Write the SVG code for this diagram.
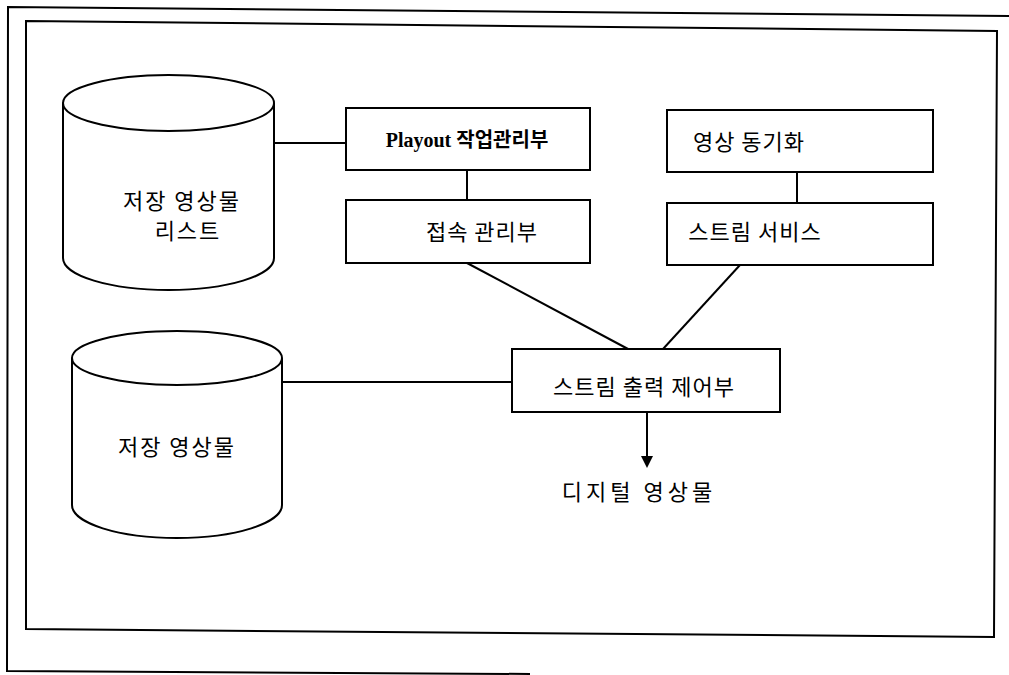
<svg xmlns="http://www.w3.org/2000/svg" width="1009" height="675" viewBox="0 0 1009 675">
<defs>
<style>
.ln{fill:none;stroke:#000;stroke-width:2}
.bx{fill:#fff;stroke:#000;stroke-width:2}
.t{font-family:"Noto Sans CJK KR","Noto Sans",sans-serif;font-size:22px;letter-spacing:1px;fill:#000;text-anchor:middle}
.ts{font-family:"Liberation Serif","Noto Sans CJK KR",serif;font-size:20px;font-weight:bold;fill:#000;text-anchor:middle}
</style>
<marker id="ah" markerWidth="12" markerHeight="12" refX="10" refY="6" orient="auto" markerUnits="userSpaceOnUse">
<path d="M0,0 L12,6 L0,12 Z" fill="#000"/>
</marker>
</defs>
<rect width="1009" height="675" fill="#fff"/>
<g id="frame">
<polyline class="ln" points="1009,16 8,7 7,671 530,674"/>
<polygon class="ln" points="26,21 997,31 994,637 26,629"/>
</g>
<g id="connectors">
<line class="ln" x1="275" y1="143" x2="346" y2="143"/>
<line class="ln" x1="283" y1="382" x2="512" y2="382"/>
<line class="ln" x1="467" y1="170" x2="467" y2="200"/>
<line class="ln" x1="797" y1="172" x2="797" y2="203"/>
<line class="ln" x1="467" y1="263" x2="628" y2="349"/>
<line class="ln" x1="740" y1="265" x2="663" y2="349"/>
<line class="ln" x1="647" y1="412" x2="647" y2="466" marker-end="url(#ah)"/>
</g>
<g id="cyl1">
<path class="bx" d="M63,103 L63,258 A105.5,32 0 0 0 274,258 L274,103 A105.5,28 0 0 0 63,103 Z"/>
<path class="ln" d="M63,103 A105.5,28 0 0 0 274,103"/>
<text class="t" x="182" y="209" style="letter-spacing:2px">저장 영상물</text>
<text class="t" x="188" y="239" style="letter-spacing:2px">리스트</text>
</g>
<g id="cyl2">
<path class="bx" d="M72,358 L72,505 A105,33 0 0 0 282,505 L282,358 A105,27 0 0 0 72,358 Z"/>
<path class="ln" d="M72,358 A105,27 0 0 0 282,358"/>
<text class="t" x="177" y="455" style="letter-spacing:2px">저장 영상물</text>
</g>
<g id="playout">
<rect class="bx" x="346" y="108" width="244" height="62"/>
<text class="ts" x="467" y="147">Playout 작업관리부</text>
</g>
<g id="access">
<rect class="bx" x="346" y="200" width="244" height="63"/>
<text class="t" x="482" y="240">접속 관리부</text>
</g>
<g id="sync">
<rect class="bx" x="667" y="110" width="266" height="62"/>
<text class="t" x="749" y="150">영상 동기화</text>
</g>
<g id="stream">
<rect class="bx" x="667" y="203" width="266" height="62"/>
<text class="t" x="755" y="240">스트림 서비스</text>
</g>
<g id="output">
<rect class="bx" x="512" y="349" width="268" height="63"/>
<text class="t" x="644" y="395">스트림 출력 제어부</text>
</g>
<g id="digital">
<text class="t" x="639" y="500" style="letter-spacing:4px">디지털 영상물</text>
</g>
</svg>
